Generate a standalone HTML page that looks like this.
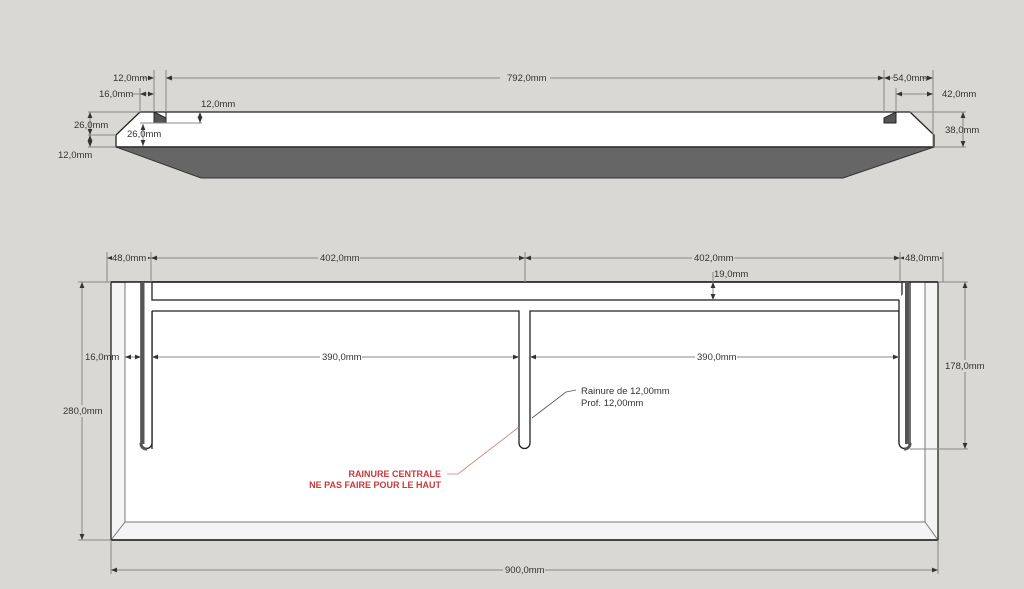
<!DOCTYPE html>
<html><head><meta charset="utf-8"><style>
html,body{margin:0;padding:0;background:#dad8d4;}
svg{display:block}
text{font-family:"Liberation Sans",sans-serif;font-size:9.5px;fill:#333}
.d{stroke:#888;stroke-width:1;fill:none}
.o{stroke:#222;stroke-width:1.3}
</style></head><body>
<svg width="1024" height="589" viewBox="0 0 1024 589" xmlns="http://www.w3.org/2000/svg">
<defs>
<marker id="a" viewBox="0 0 10 10" refX="10" refY="5" markerWidth="6" markerHeight="6" orient="auto-start-reverse"><path d="M0,1 L10,5 L0,9z" fill="#333"/></marker>
</defs>
<rect width="1024" height="589" fill="#dad8d4"/>

<!-- TOP VIEW -->
<polygon points="116,147 201,178 843,178 934,147" fill="#666" stroke="#333"/>
<polygon points="116,135 140,112 910,112 934,135 934,147 116,147" fill="#fff" stroke="#222" stroke-width="1.3"/>
<line x1="116" y1="147" x2="934" y2="147" stroke="#333" stroke-width="1.5"/>
<polygon points="154,112 166,118 166,123 154,123" fill="#555" stroke="#222"/>
<line x1="166" y1="112" x2="166" y2="118" stroke="#222"/>
<polygon points="884,118 896,112 896,123 884,123" fill="#555" stroke="#222"/>

<!-- top dims -->
<g class="d">
<line x1="154" y1="70" x2="154" y2="112"/><line x1="166" y1="70" x2="166" y2="112"/>
<line x1="884" y1="70" x2="884" y2="112"/><line x1="933" y1="70" x2="933" y2="147"/>
<line x1="140" y1="88" x2="140" y2="112"/><line x1="896" y1="88" x2="896" y2="112"/>
<line x1="142" y1="78" x2="154" y2="78" marker-end="url(#a)"/>
<line x1="178" y1="78" x2="166" y2="78" marker-end="url(#a)"/>
<line x1="166" y1="78" x2="500" y2="78" marker-start="url(#a)"/><line x1="550" y1="78" x2="884" y2="78" marker-end="url(#a)"/>
<line x1="884" y1="78" x2="893" y2="78" marker-start="url(#a)"/><line x1="922" y1="78" x2="933" y2="78" marker-end="url(#a)"/>
<line x1="896" y1="94" x2="933" y2="94" marker-start="url(#a)" marker-end="url(#a)"/>
<line x1="140" y1="94" x2="154" y2="94" marker-start="url(#a)" marker-end="url(#a)"/>
<line x1="132" y1="94" x2="140" y2="94"/>
<line x1="88" y1="112" x2="140" y2="112"/><line x1="88" y1="135" x2="116" y2="135"/><line x1="88" y1="147" x2="116" y2="147"/>
<line x1="90" y1="112" x2="90" y2="135" marker-start="url(#a)" marker-end="url(#a)"/>
<line x1="90" y1="135" x2="90" y2="147" marker-start="url(#a)" marker-end="url(#a)"/>
<line x1="140" y1="123" x2="166" y2="123"/><line x1="143" y1="124" x2="143" y2="146" marker-start="url(#a)" marker-end="url(#a)"/>
<line x1="166" y1="123" x2="202" y2="123"/><line x1="200" y1="112" x2="200" y2="123" marker-start="url(#a)" marker-end="url(#a)"/>
<line x1="910" y1="112" x2="966" y2="112"/><line x1="934" y1="147" x2="966" y2="147"/>
<line x1="963" y1="112" x2="963" y2="147" marker-start="url(#a)" marker-end="url(#a)"/>
</g>
<g>
<rect x="500" y="72" width="50" height="12" fill="#dad8d4"/>
<text x="507" y="81">792,0mm</text>
<text x="113" y="81">12,0mm</text>
<text x="99" y="97">16,0mm</text>
<text x="201" y="107">12,0mm</text>
<text x="74" y="128">26,0mm</text>
<text x="127" y="137">26,0mm</text>
<text x="58" y="158">12,0mm</text>
<text x="893" y="81">54,0mm</text>
<text x="942" y="97">42,0mm</text>
<text x="945" y="133">38,0mm</text>
</g>

<!-- FRONT VIEW -->
<rect x="111" y="282" width="827" height="258" fill="#f4f4f4" stroke="#222" stroke-width="1.3"/>
<polygon points="125,282 925,282 925,522 125,522" fill="#fff" stroke="#777"/>
<line x1="111" y1="540" x2="125" y2="522" stroke="#777"/>
<line x1="938" y1="540" x2="925" y2="522" stroke="#777"/>
<line x1="111" y1="540" x2="938" y2="540" stroke="#222" stroke-width="1.5"/>
<rect x="152" y="282" width="750" height="18" fill="#fff" stroke="#222" stroke-width="1.3"/>
<line x1="111" y1="282" x2="938" y2="282" stroke="#222" stroke-width="1.5"/>
<path d="M152,449 L152,311 L519,311 L519,443 A5.5,5.5 0 0 0 530,443 L530,311 L899,311 L899,443" fill="none" class="o"/>
<path d="M141,282 L141,443 A5.5,5.5 0 0 0 152,443 L152,311" fill="#fff" class="o"/>
<rect x="141" y="282" width="3.5" height="162" fill="#555"/>
<path d="M141,443 A5.5,5.5 0 0 0 147,449" fill="none" stroke="#555" stroke-width="3"/>
<path d="M899,300 L899,443 A5.5,5.5 0 0 0 910,443 L910,282" fill="#fff" class="o"/>
<rect x="905" y="282" width="4" height="162" fill="#555"/>
<path d="M904,449 A5.5,5.5 0 0 0 910,443" fill="none" stroke="#555" stroke-width="3"/>

<!-- front dims -->
<g class="d">
<line x1="107" y1="252" x2="107" y2="282"/><line x1="151" y1="252" x2="151" y2="282"/>
<line x1="525" y1="252" x2="525" y2="282"/><line x1="900" y1="252" x2="900" y2="282"/><line x1="943" y1="252" x2="943" y2="282"/>
<line x1="107" y1="258" x2="151" y2="258" marker-start="url(#a)" marker-end="url(#a)"/>
<line x1="151" y1="258" x2="525" y2="258" marker-start="url(#a)" marker-end="url(#a)"/>
<line x1="525" y1="258" x2="900" y2="258" marker-start="url(#a)" marker-end="url(#a)"/>
<line x1="900" y1="258" x2="943" y2="258" marker-start="url(#a)" marker-end="url(#a)"/>
<line x1="713" y1="282" x2="713" y2="300" marker-start="url(#a)" marker-end="url(#a)"/>
<line x1="713" y1="272" x2="713" y2="282"/>
<line x1="125" y1="357" x2="141" y2="357" marker-start="url(#a)" marker-end="url(#a)"/>
<line x1="152" y1="357" x2="519" y2="357" marker-start="url(#a)" marker-end="url(#a)"/>
<line x1="530" y1="357" x2="899" y2="357" marker-start="url(#a)" marker-end="url(#a)"/>
<line x1="78" y1="282" x2="111" y2="282"/><line x1="78" y1="540" x2="111" y2="540"/>
<line x1="82" y1="282" x2="82" y2="540" marker-start="url(#a)" marker-end="url(#a)"/>
<line x1="938" y1="282" x2="968" y2="282"/><line x1="910" y1="449" x2="968" y2="449"/>
<line x1="965" y1="282" x2="965" y2="449" marker-start="url(#a)" marker-end="url(#a)"/>
<line x1="111" y1="540" x2="111" y2="574"/><line x1="938" y1="540" x2="938" y2="574"/>
<line x1="111" y1="570" x2="938" y2="570" marker-start="url(#a)" marker-end="url(#a)"/>
</g>
<g>
<rect x="112" y="252" width="36" height="12" fill="#dad8d4"/><text x="112" y="261">48,0mm</text>
<rect x="318" y="252" width="42" height="12" fill="#dad8d4"/><text x="320" y="261">402,0mm</text>
<rect x="692" y="252" width="42" height="12" fill="#dad8d4"/><text x="694" y="261">402,0mm</text>
<rect x="904" y="252" width="36" height="12" fill="#dad8d4"/><text x="905" y="261">48,0mm</text>
<text x="714" y="277">19,0mm</text>
<rect x="320" y="351" width="42" height="12" fill="#fff"/><text x="322" y="360">390,0mm</text>
<rect x="695" y="351" width="42" height="12" fill="#fff"/><text x="697" y="360">390,0mm</text>
<text x="85" y="360">16,0mm</text>
<rect x="62" y="405" width="40" height="12" fill="#dad8d4"/><text x="63" y="414">280,0mm</text>
<rect x="944" y="360" width="42" height="12" fill="#dad8d4"/><text x="945" y="369">178,0mm</text>
<rect x="503" y="564" width="42" height="12" fill="#dad8d4"/><text x="505" y="573">900,0mm</text>
<polyline points="576,390 566,392 532,418" fill="none" stroke="#555" stroke-width="0.8"/>
<text x="581" y="394">Rainure de 12,00mm</text>
<text x="581" y="406">Prof. 12,00mm</text>
<polyline points="447,474 458,474 519,427" fill="none" stroke="#c77" stroke-width="0.8"/>
<text x="441" y="477" text-anchor="end" style="fill:#c83a3a;font-weight:bold;font-size:9px">RAINURE CENTRALE</text>
<text x="441" y="488" text-anchor="end" style="fill:#c83a3a;font-weight:bold;font-size:9px">NE PAS FAIRE POUR LE HAUT</text>
</g>
</svg>
</body></html>
